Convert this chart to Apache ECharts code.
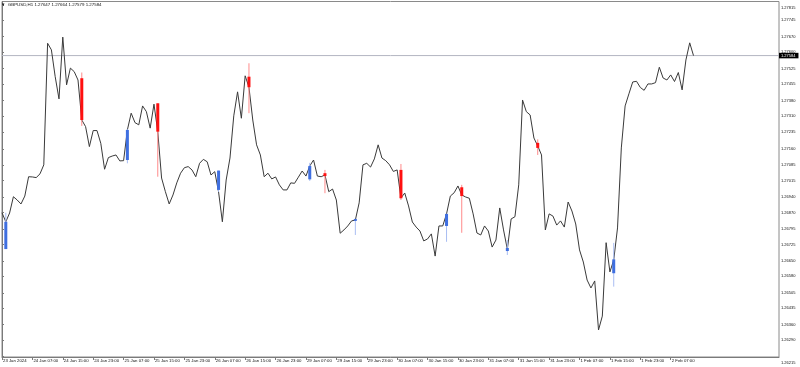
<!DOCTYPE html>
<html>
<head>
<meta charset="utf-8">
<script src="https://cdn.jsdelivr.net/npm/echarts@6/dist/echarts.min.js"></script>
<style>
html,body{margin:0;padding:0;background:#fff;}
#chart{width:800px;height:367px;}
</style>
</head>
<body>
<div id="chart"></div>
<script>
// ---- data (GBPUSD, H1 closes, bar 0 = 23 Jan 23:00) ----
const titleText = 'GBPUSD,H1 1.27647 1.27664 1.27579 1.27584';
const lastPrice = 1.27584;

const timeLabels = ['23 Jan 2024','24 Jan 07:00','24 Jan 15:00','24 Jan 23:00','25 Jan 07:00','25 Jan 15:00',
  '25 Jan 23:00','26 Jan 07:00','26 Jan 15:00','26 Jan 23:00','29 Jan 07:00','29 Jan 15:00','29 Jan 23:00',
  '30 Jan 07:00','30 Jan 15:00','30 Jan 23:00','31 Jan 07:00','31 Jan 15:00','31 Jan 23:00','1 Feb 07:00',
  '1 Feb 15:00','1 Feb 23:00','2 Feb 07:00'];
const timeTickBars = [0,8,16,24,32,40,48,56,64,72,80,88,96,104,112,120,128,136,144,152,160,168,176];

const priceTicks = [1.27815,1.27745,1.27670,1.27600,1.27525,1.27455,1.27380,1.27310,1.27235,1.27160,
  1.27085,1.27015,1.26940,1.26870,1.26795,1.26725,1.26650,1.26580,1.26505,1.26435,1.26360,1.26290,1.26215];

const closes = [
  1.26869,1.26828,1.26868,1.26942,1.26927,1.26909,1.26945,1.27033,1.27032,1.27029,
  1.27046,1.27087,1.27640,1.27610,1.27488,1.27387,1.27668,1.27451,1.27527,1.27511,
  1.27473,1.27291,1.27261,1.27170,1.27243,1.27243,1.27185,1.27067,1.27120,1.27127,
  1.27132,1.27105,1.27106,1.27246,1.27322,1.27279,1.27269,1.27355,1.27329,1.27254,
  1.27363,1.27238,1.27027,1.26965,1.26909,1.26950,1.27005,1.27049,1.27074,1.27079,
  1.27064,1.27033,1.27094,1.27112,1.27101,1.27041,1.27056,1.26964,1.26828,1.27018,
  1.27118,1.27310,1.27419,1.27299,1.27492,1.27440,1.27291,1.27178,1.27132,1.27033,
  1.27049,1.27023,1.27032,1.26996,1.26973,1.26973,1.27005,1.27003,1.27031,1.27059,
  1.27036,1.27082,1.27109,1.27036,1.27033,1.27041,1.26965,1.26977,1.26927,1.26776,
  1.26791,1.26809,1.26832,1.26836,1.26914,1.27087,1.27094,1.27077,1.27114,1.27178,
  1.27118,1.27106,1.27087,1.27057,1.27064,1.26936,1.26959,1.26900,1.26827,1.26804,
  1.26786,1.26741,1.26750,1.26773,1.26672,1.26809,1.26809,1.26864,1.26945,1.26960,
  1.26991,1.26950,1.26941,1.26935,1.26864,1.26777,1.26768,1.26809,1.26786,1.26713,
  1.26745,1.26891,1.26791,1.26703,1.26841,1.26851,1.26996,1.27382,1.27329,1.27314,
  1.27209,1.27173,1.27132,1.26791,1.26864,1.26854,1.26813,1.26832,1.26804,1.26918,
  1.26877,1.26818,1.26700,1.26645,1.26563,1.26527,1.26559,1.26336,1.26399,1.26733,
  1.26600,1.26654,1.26800,1.27164,1.27355,1.27410,1.27464,1.27467,1.27439,1.27426,
  1.27455,1.27455,1.27461,1.27531,1.27482,1.27473,1.27496,1.27466,1.27507,1.27428,
  1.27564,1.27642,1.27584
];

// highlighted candles (dir 1 = blue, -1 = red)
const candleBars  = [1, 21, 33, 41, 57, 65, 81, 85, 93, 105, 117, 121, 133, 141, 161];
const candleOpen  = [1.26704,1.27481,1.27109,1.27367,1.26973,1.27488,1.27021,1.27049,1.26832,1.27064,1.26809,1.26985,1.26695,1.27187,1.26594];
const candleClose = [1.26828,1.27291,1.27246,1.27238,1.27061,1.27440,1.27082,1.27036,1.26841,1.26935,1.26864,1.26945,1.26709,1.27164,1.26657];
const candleLow   = [1.26704,1.27264,1.27094,1.27033,1.26964,1.27322,1.27014,1.26958,1.26768,1.26927,1.26737,1.26778,1.26677,1.27132,1.26533];
const candleHigh  = [1.26869,1.27507,1.27249,1.27367,1.27061,1.27549,1.27096,1.27064,1.26841,1.27091,1.26864,1.26996,1.26745,1.27203,1.26732];
const candleDir   = [1,-1,1,-1,1,-1,1,-1,1,-1,1,-1,1,-1,1];

// ---- chart ----
const FONT = '"Liberation Sans", Arial, sans-serif';
const X_MIN = 0, X_MAX = 204.5;
const chart = echarts.init(document.getElementById('chart'), null, {renderer: 'canvas'});

function renderCandle(params, api) {
  const x = api.value(0);
  const o = api.value(1), c = api.value(2), lo = api.value(3), hi = api.value(4), d = api.value(5);
  const pHi = api.coord([x, hi]);
  const pLo = api.coord([x, lo]);
  const pO = api.coord([x, o]);
  const pC = api.coord([x, c]);
  const w = 3;
  const top = Math.min(pO[1], pC[1]);
  const h = Math.max(Math.abs(pO[1] - pC[1]), 1.5);
  const body = d > 0 ? '#3f6fe0' : '#ff1010';
  const wick = d > 0 ? '#a9bdf2' : '#ff8a8a';
  return {
    type: 'group',
    children: [
      {type: 'line', shape: {x1: pHi[0], y1: pHi[1], x2: pLo[0], y2: pLo[1]}, style: {stroke: wick, lineWidth: 1}},
      {type: 'rect', shape: {x: pO[0] - w / 2, y: top, width: w, height: h}, style: {fill: body}}
    ]
  };
}

const option = {
  animation: false,
  backgroundColor: '#ffffff',
  title: {
    text: '\u25BC  ' + titleText,
    left: 1,
    top: 2.5,
    padding: 0,
    textStyle: {fontSize: 4.4, fontWeight: 'normal', color: '#111', fontFamily: FONT}
  },
  grid: {
    left: 1, top: 1.5, right: 21, bottom: 10,
    show: true, borderColor: '#8a8a8a', borderWidth: 1, backgroundColor: 'transparent'
  },
  xAxis: {
    type: 'value',
    min: X_MIN,
    max: X_MAX,
    splitLine: {show: false},
    axisLine: {show: true, lineStyle: {color: '#7a7a7a', width: 1}},
    axisTick: {show: true, length: 3, customValues: timeTickBars, lineStyle: {color: '#7a7a7a'}},
    axisLabel: {
      customValues: timeTickBars,
      formatter: function (v) { const i = timeTickBars.indexOf(v); return i >= 0 ? timeLabels[i] : ''; },
      fontSize: 4.3, fontFamily: FONT, color: '#111',
      align: 'left', margin: 1.5, padding: [0, 0, 0, 1]
    }
  },
  yAxis: {
    type: 'value',
    position: 'right',
    min: 1.26213,
    max: 1.27830,
    scale: true,
    splitLine: {show: false},
    axisLine: {show: true, lineStyle: {color: '#7a7a7a', width: 1}},
    axisTick: {show: true, length: 2, customValues: priceTicks, lineStyle: {color: '#7a7a7a'}},
    axisLabel: {
      customValues: priceTicks,
      formatter: function (v) {
        const s = v.toFixed(5);
        if (v === priceTicks[0]) return '{top|' + s + '}';
        if (v === priceTicks[priceTicks.length - 1]) return '{bot|' + s + '}';
        return s;
      },
      fontSize: 4, fontFamily: FONT, color: '#111', margin: 2,
      rich: {
        top: {fontSize: 4, fontFamily: FONT, color: '#111', padding: [7, 0, 0, 0]},
        bot: {fontSize: 4, fontFamily: FONT, color: '#111', padding: [13, 0, 0, 0]}
      }
    }
  },
  series: [
    {
      // bid price line with its axis label
      type: 'line',
      data: [[X_MIN, lastPrice], [X_MAX, lastPrice]],
      symbol: 'none',
      silent: true,
      clip: false,
      lineStyle: {color: '#b4b6c2', width: 1},
      z: 1,
      endLabel: {
        show: true,
        formatter: lastPrice.toFixed(5),
        distance: 0,
        backgroundColor: '#000', color: '#fff',
        fontSize: 4, fontFamily: FONT, padding: [1, 3, 0.5, 2]
      }
    },
    {
      type: 'line',
      data: closes.map(function (c, i) { return [i, c]; }),
      symbol: 'none',
      showSymbol: false,
      lineStyle: {color: '#3a3a3a', width: 1},
      z: 2
    },
    {
      type: 'custom',
      renderItem: renderCandle,
      data: candleBars.map(function (b, i) {
        return [b, candleOpen[i], candleClose[i], candleLow[i], candleHigh[i], candleDir[i]];
      }),
      encode: {x: 0, y: [1, 2, 3, 4]},
      z: 3
    }
  ]
};
chart.setOption(option);
</script>
</body>
</html>
